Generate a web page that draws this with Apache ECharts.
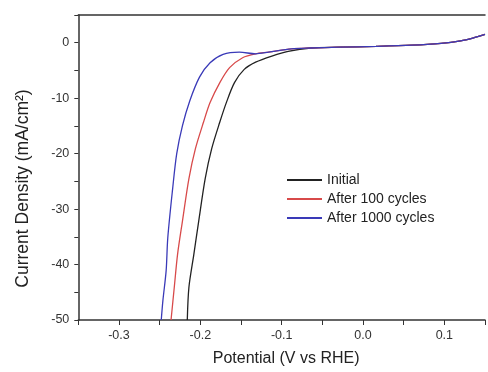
<!DOCTYPE html>
<html>
<head>
  <meta charset="UTF-8">
  <title>LSV cycling</title>
  <script src="https://cdn.jsdelivr.net/npm/echarts@6/dist/echarts.min.js"></script>
  <style>
    html, body { margin: 0; padding: 0; background: #fff; }
    #chart { width: 488px; height: 372px; }
  </style>
</head>
<body>
  <div id="chart"></div>
  <script>
    // series names
    const seriesNames = ['Initial', 'After 100 cycles', 'After 1000 cycles'];
    const seriesColors = ['#222222', '#d84a4a', '#3a3ab8'];

    // shared flat tail (x, y)
    const tail = [
      [-0.088, -1.1], [-0.064, -0.95], [-0.03, -0.8], [0.016, -0.66],
      [0.06, -0.45], [0.096, -0.1], [0.12, 0.35], [0.135, 0.85], [0.15, 1.5]
    ];

    const initialData = [
      [-0.216, -50], [-0.214, -44.1], [-0.208, -38.2], [-0.202, -32.2],
      [-0.194, -24.5], [-0.186, -19.1], [-0.176, -14.3], [-0.168, -10.8],
      [-0.158, -7.2], [-0.146, -4.8], [-0.132, -3.5], [-0.112, -2.4],
      [-0.092, -1.55]
    ].concat(tail.slice(1));

    const after100Data = [
      [-0.236, -50], [-0.232, -44.1], [-0.228, -38.2], [-0.222, -32.2],
      [-0.214, -24.5], [-0.206, -19.1], [-0.196, -14.3], [-0.188, -10.8],
      [-0.176, -7.2], [-0.164, -4.5], [-0.148, -2.7], [-0.132, -2.0],
      [-0.116, -1.7]
    ].concat(tail);

    const after1000Data = [
      [-0.248, -50], [-0.246, -46.5], [-0.242, -41.1], [-0.240, -35.2],
      [-0.234, -26.3], [-0.229, -20], [-0.222, -15], [-0.213, -10.5],
      [-0.201, -6.2], [-0.188, -3.6], [-0.172, -2.1], [-0.152, -1.7],
      [-0.132, -2.0], [-0.116, -1.7]
    ].concat(tail);

    const allData = [initialData, after100Data, after1000Data];

    const axisColor = '#333';
    const chart = echarts.init(document.getElementById('chart'));
    chart.setOption({
      animation: false,
      textStyle: { fontFamily: 'Liberation Sans, Arial, sans-serif' },
      grid: { left: 78.3, right: -7.7, top: 15, bottom: 49 },
      legend: {
        data: seriesNames,
        orient: 'vertical',
        left: 281,
        top: 168,
        itemWidth: 35,
        itemHeight: 14,
        itemGap: 5,
        itemStyle: { opacity: 0 },
        textStyle: { fontSize: 14, color: '#222' }
      },
      xAxis: [{
        type: 'value',
        min: -0.35,
        max: 0.15,
        interval: 0.05,
        name: 'Potential (V vs RHE)',
        nameLocation: 'middle',
        nameGap: 31,
        nameTextStyle: { fontSize: 16, color: '#222', padding: [0, 0, 0, 9] },
        axisLine: { onZero: false, lineStyle: { color: axisColor, width: 1.5 } },
        axisTick: { length: 5, lineStyle: { color: axisColor } },
        splitLine: { show: false },
        axisLabel: {
          fontSize: 12.5,
          color: '#333',
          margin: 9,
          formatter: v => {
            const r = Math.round(v * 100);
            return r % 10 === 0 ? (r / 100).toFixed(1) : '';
          }
        }
      }, {
        type: 'value',
        position: 'top',
        min: -0.35,
        max: 0.15,
        axisLine: { show: true, onZero: false, lineStyle: { color: axisColor, width: 1.5 } },
        axisTick: { show: false },
        axisLabel: { show: false },
        splitLine: { show: false }
      }],
      yAxis: {
        type: 'value',
        min: -50,
        max: 5,
        interval: 5,
        name: 'Current Density (mA/cm²)',
        nameLocation: 'middle',
        nameGap: 46,
        nameTextStyle: { fontSize: 17.5, color: '#222', padding: [0, 42, 0, 0] },
        axisLine: { onZero: false, lineStyle: { color: axisColor, width: 1.5 } },
        axisTick: { length: 4, lineStyle: { color: axisColor } },
        splitLine: { show: false },
        axisLabel: {
          fontSize: 12.5,
          color: '#333',
          margin: 9,
          formatter: v => (v % 10 === 0 ? String(v) : '')
        }
      },
      series: seriesNames.map((name, i) => ({
        name: name,
        type: 'line',
        data: allData[i],
        symbol: 'none',
        smooth: 0.3,
        color: seriesColors[i],
        lineStyle: { width: 1.3, color: seriesColors[i] }
      }))
    });
  </script>
</body>
</html>
